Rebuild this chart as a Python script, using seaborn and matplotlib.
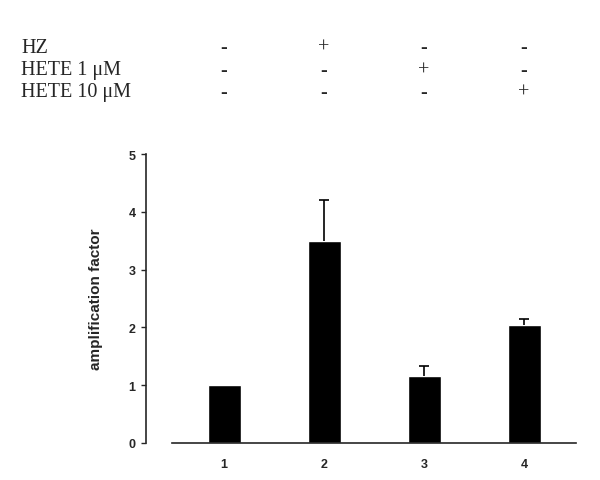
import pandas as pd
import matplotlib
matplotlib.use("Agg")
import matplotlib.pyplot as plt
import matplotlib.transforms as mtransforms
import seaborn as sns

# data
groups = ['1', '2', '3', '4']
amplification = [1.0, 3.5, 1.16, 2.05]
err_up = [0.0, 0.70, 0.18, 0.09]

# treatment table above the plot
row_labels = ['HZ', 'HETE 1 \u03bcM', 'HETE 10 \u03bcM']
hz = ['-', '+', '-', '-']
hete1 = ['-', '-', '+', '-']
hete10 = ['-', '-', '-', '+']

sns.set_style('ticks')
plt.rcParams['font.family'] = ['Liberation Sans', 'DejaVu Sans']

df = pd.DataFrame({'group': groups, 'value': amplification})

fig = plt.figure(figsize=(6, 4.81), dpi=100)
ax = fig.add_axes([146 / 600, 37 / 481, 430 / 600, 289 / 481])

sns.barplot(data=df, x='group', y='value', color='black', width=0.33,
            errorbar=None, ax=ax, saturation=1)

# upper error bars only, skip bars without error
idx = [i for i, e in enumerate(err_up) if e > 0]
_, caps, _ = ax.errorbar(idx, [amplification[i] for i in idx],
                         yerr=[[0] * len(idx), [err_up[i] for i in idx]],
                         fmt='none', ecolor='black', elinewidth=1.2,
                         capsize=3.3, capthick=1.2)
caps[0].set_visible(False)

ax.set_xlim(-0.78, 3.52)
ax.set_ylim(0, 5)
ax.set_yticks([0, 1, 2, 3, 4, 5])
ax.spines['top'].set_visible(False)
ax.spines['right'].set_visible(False)
ax.spines['bottom'].set_bounds(-0.52, 3.52)
ax.spines['left'].set_linewidth(1.2)
ax.spines['bottom'].set_linewidth(1.2)
ax.tick_params(axis='y', direction='out', length=3.6, width=1, labelsize=9, pad=4)
ax.tick_params(axis='x', length=0, labelsize=9, pad=11)
for lab in ax.get_xticklabels() + ax.get_yticklabels():
    lab.set_fontweight('bold')
ax.set_xlabel('')
ax.set_ylabel('amplification factor', fontsize=11, fontweight='bold', labelpad=18)

# header table: columns follow the bar positions
serif = ['Liberation Serif', 'DejaVu Serif']
trans = mtransforms.blended_transform_factory(ax.transData, fig.transFigure)
row_base = [53, 75.5, 97.5]
for label, signs, y in zip(row_labels, [hz, hete1, hete10], row_base):
    fig.text(21 / 600, 1 - y / 481, label, family=serif, fontsize=14.5,
             va='baseline', ha='left')
    for i, s in enumerate(signs):
        ax.text(i, 1 - y / 481, s, transform=trans, family=serif, fontsize=14.5,
                va='baseline', ha='center')

fig.savefig('out.png', dpi=100)
